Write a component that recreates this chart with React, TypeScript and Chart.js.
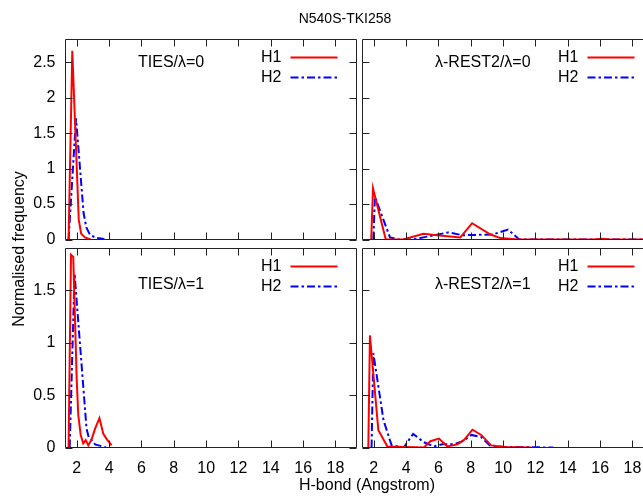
import React, { useEffect, useRef } from "react";
import { Chart, registerables } from "chart.js";

Chart.register(...registerables);

// ---------- data ----------
const X_MIN = 1.3;
const X_MAX = 19.3;
const X_TICKS = [2, 4, 6, 8, 10, 12, 14, 16, 18];
const Y_TICKS_TOP = [0, 0.5, 1, 1.5, 2, 2.5];
const Y_TICKS_BOTTOM = [0, 0.5, 1, 1.5];
const Y_MAX_TOP = 2.82;
const Y_MAX_BOTTOM = 1.9;

const SERIES_NAMES = ["H1", "H2"];
const PANEL_LABELS = ["TIES/λ=0", "λ-REST2/λ=0", "TIES/λ=1", "λ-REST2/λ=1"];
const TITLE = "N540S-TKI258";
const X_LABEL = "H-bond (Angstrom)";
const Y_LABEL = "Normalised frequency";

// TIES / lambda = 0
const TIES0_H1_X = [1.49, 1.72, 2.12, 2.27, 2.5, 2.85];
const TIES0_H1_Y = [0, 2.66, 0.28, 0.08, 0.03, 0];
const TIES0_H2_X = [1.49, 1.95, 2.42, 2.59, 2.83, 3.04, 3.25, 3.6, 3.7];
const TIES0_H2_Y = [0, 1.71, 0.37, 0.17, 0.06, 0.04, 0.02, 0.01, 0];

// lambda-REST2 / lambda = 0
const REST0_H1_X = [1.84, 1.95, 2.74, 3.82, 5.07, 5.9, 7.35, 8.08, 9.22, 9.84, 10.9, 15.6, 16.1, 16.6, 19.6];
const REST0_H1_Y = [0, 0.72, 0, 0, 0.08, 0.06, 0.03, 0.23, 0.07, 0.02, 0, 0, 0.01, 0, 0];
const REST0_H2_X = [1.97, 2.07, 3.0, 3.5, 4.4, 5.07, 6.6, 7.5, 9.35, 10.3, 11.0, 19.6];
const REST0_H2_Y = [0, 0.6, 0.03, 0, 0, 0.03, 0.1, 0.06, 0.07, 0.14, 0, 0];

// TIES / lambda = 1
const TIES1_H1_X = [1.49, 1.64, 1.78, 1.99, 2.09, 2.24, 2.4, 2.55, 2.71, 2.92, 3.13, 3.4, 3.64, 3.85, 4.15];
const TIES1_H1_Y = [0, 1.84, 1.82, 0.66, 0.31, 0.12, 0.04, 0.07, 0.02, 0.08, 0.18, 0.28, 0.13, 0.08, 0.02];
const TIES1_H2_X = [1.56, 1.86, 2.45, 2.6, 2.75, 2.92, 3.13, 3.6, 3.8];
const TIES1_H2_Y = [0, 1.66, 0.48, 0.18, 0.09, 0.07, 0.03, 0.01, 0];

// lambda-REST2 / lambda = 1
const REST1_H1_X = [1.66, 1.76, 2.28, 2.84, 5.1, 5.5, 6.03, 6.55, 7.17, 7.6, 8.1, 8.64, 9.26, 10.1, 11.75];
const REST1_H1_Y = [0, 1.07, 0.165, 0.01, 0, 0.06, 0.085, 0.01, 0.03, 0.075, 0.17, 0.12, 0.02, 0.005, 0];
const REST1_H2_X = [1.86, 1.97, 2.6, 3.1, 3.85, 4.43, 5.1, 5.7, 6.23, 6.97, 7.5, 8.03, 8.64, 9.16, 10.1, 13.1];
const REST1_H2_Y = [0, 0.9, 0.26, 0.02, 0, 0.13, 0.05, 0.01, 0.03, 0.03, 0.06, 0.12, 0.1, 0.02, 0.005, 0];

// ---------- layout ----------
const W = 680;
const H = 496;
const FONT = "'Liberation Sans', Arial, Helvetica, sans-serif";
const RED = "#ff0000";
const BLUE = "#0000ff";
const FRAME = "#222222";
const BLUE_DASH = [8, 3, 2.5, 3];

type Panel = {
  left: number; top: number; right: number; bottom: number;
  showX: boolean; showY: boolean;
  yMax: number; yTicks: number[];
  label: string; labelDy: number;
  h1x: number[]; h1y: number[]; h2x: number[]; h2y: number[];
};

const PANELS: Panel[] = [
  { left: 65.5, top: 39.5, right: 356.5, bottom: 239.5, showX: false, showY: true, yMax: Y_MAX_TOP, yTicks: Y_TICKS_TOP, label: PANEL_LABELS[0], labelDy: 23, h1x: TIES0_H1_X, h1y: TIES0_H1_Y, h2x: TIES0_H2_X, h2y: TIES0_H2_Y },
  { left: 362.5, top: 39.5, right: 653.5, bottom: 239.5, showX: false, showY: false, yMax: Y_MAX_TOP, yTicks: Y_TICKS_TOP, label: PANEL_LABELS[1], labelDy: 23, h1x: REST0_H1_X, h1y: REST0_H1_Y, h2x: REST0_H2_X, h2y: REST0_H2_Y },
  { left: 65.5, top: 248.5, right: 356.5, bottom: 447.5, showX: true, showY: true, yMax: Y_MAX_BOTTOM, yTicks: Y_TICKS_BOTTOM, label: PANEL_LABELS[2], labelDy: 36.5, h1x: TIES1_H1_X, h1y: TIES1_H1_Y, h2x: TIES1_H2_X, h2y: TIES1_H2_Y },
  { left: 362.5, top: 248.5, right: 653.5, bottom: 447.5, showX: true, showY: false, yMax: Y_MAX_BOTTOM, yTicks: Y_TICKS_BOTTOM, label: PANEL_LABELS[3], labelDy: 36.5, h1x: REST1_H1_X, h1y: REST1_H1_Y, h2x: REST1_H2_X, h2y: REST1_H2_Y },
];

const toPoints = (xs: number[], ys: number[]) => xs.map((x, i) => ({ x, y: ys[i] }));

function makeChart(canvas: HTMLCanvasElement, p: Panel) {
  const deco = {
    id: "panelDeco",
    afterDraw(chart: any) {
      const { ctx, chartArea } = chart;
      const xs = chart.scales.x;
      const ys = chart.scales.y;
      const { left, top, right, bottom } = chartArea;
      ctx.save();
      ctx.strokeStyle = FRAME;
      ctx.lineWidth = 1;
      ctx.beginPath();
      ctx.rect(left, top, right - left, bottom - top);
      const TL = 7;
      X_TICKS.forEach((v) => {
        const px = Math.round(xs.getPixelForValue(v)) + 0.5;
        ctx.moveTo(px, bottom);
        ctx.lineTo(px, bottom - TL);
        ctx.moveTo(px, top);
        ctx.lineTo(px, top + TL);
      });
      p.yTicks.forEach((v) => {
        const py = Math.round(ys.getPixelForValue(v)) + 0.5;
        ctx.moveTo(left, py);
        ctx.lineTo(left + TL, py);
        ctx.moveTo(right, py);
        ctx.lineTo(right - TL, py);
      });
      ctx.stroke();

      ctx.fillStyle = "#000";
      ctx.font = `16px ${FONT}`;
      ctx.textBaseline = "middle";
      ctx.textAlign = "left";
      ctx.fillText(p.label, left + 72.5, top + p.labelDy);

      const legend = [
        { name: SERIES_NAMES[0], color: RED, dash: [] as number[], dy: 18 },
        { name: SERIES_NAMES[1], color: BLUE, dash: BLUE_DASH, dy: 38 },
      ];
      legend.forEach((l) => {
        ctx.textAlign = "right";
        ctx.fillStyle = "#000";
        ctx.fillText(l.name, left + 216, top + l.dy);
        ctx.beginPath();
        ctx.strokeStyle = l.color;
        ctx.lineWidth = 2;
        ctx.setLineDash(l.dash);
        ctx.moveTo(left + 225, top + l.dy);
        ctx.lineTo(left + 272, top + l.dy);
        ctx.stroke();
        ctx.setLineDash([]);
      });
      ctx.restore();
    },
  };

  return new Chart(canvas, {
    type: "line",
    data: {
      datasets: [
        { label: SERIES_NAMES[0], data: toPoints(p.h1x, p.h1y), borderColor: RED, borderWidth: 2, pointRadius: 0, tension: 0, fill: false },
        { label: SERIES_NAMES[1], data: toPoints(p.h2x, p.h2y), borderColor: BLUE, borderWidth: 2, borderDash: BLUE_DASH, pointRadius: 0, tension: 0, fill: false },
      ],
    },
    options: {
      responsive: false,
      animation: false,
      devicePixelRatio: 1,
      events: [],
      layout: {
        padding: {
          left: p.showY ? 0 : p.left,
          top: p.top,
          right: W - p.right,
          bottom: p.showX ? 0 : H - p.bottom,
        },
      },
      plugins: { legend: { display: false }, tooltip: { enabled: false }, title: { display: false } },
      scales: {
        x: {
          type: "linear",
          position: "bottom",
          min: X_MIN,
          max: X_MAX,
          display: p.showX,
          afterBuildTicks: (s: any) => { s.ticks = X_TICKS.map((v) => ({ value: v })); },
          afterFit: (s: any) => { s.height = p.showX ? H - p.bottom : 0; },
          ticks: { autoSkip: false, maxRotation: 0, padding: 11, color: "#000", font: { family: FONT, size: 16 }, callback: (v: any) => String(v) },
          grid: { display: false, drawTicks: false },
          border: { display: false },
        },
        y: {
          type: "linear",
          position: "left",
          min: 0,
          max: p.yMax,
          display: p.showY,
          afterBuildTicks: (s: any) => { s.ticks = p.yTicks.map((v) => ({ value: v })); },
          afterFit: (s: any) => { s.width = p.showY ? p.left : 0; },
          ticks: { autoSkip: false, padding: 10, color: "#000", font: { family: FONT, size: 16 }, callback: (v: any) => String(v) },
          grid: { display: false, drawTicks: false },
          border: { display: false },
        },
      },
    } as any,
    plugins: [deco],
  });
}

export default function App() {
  const r0 = useRef<HTMLCanvasElement>(null);
  const r1 = useRef<HTMLCanvasElement>(null);
  const r2 = useRef<HTMLCanvasElement>(null);
  const r3 = useRef<HTMLCanvasElement>(null);
  const refs = [r0, r1, r2, r3];

  useEffect(() => {
    const charts = PANELS.map((p, i) => makeChart(refs[i].current as HTMLCanvasElement, p));
    return () => charts.forEach((c) => c.destroy());
  }, []);

  const textStyle: React.CSSProperties = { position: "absolute", color: "#000", fontFamily: FONT, whiteSpace: "nowrap", textAlign: "center", lineHeight: "20px" };

  return (
    <div style={{ position: "absolute", left: 0, top: 0, width: 643, height: 496, overflow: "hidden", background: "#fff" }}>
      {refs.map((r, i) => (
        <canvas key={i} ref={r} width={W} height={H} style={{ position: "absolute", left: 0, top: 0, width: W, height: H }} />
      ))}
      <div style={{ ...textStyle, left: 245, top: 8, width: 200, fontSize: 14 }}>{TITLE}</div>
      <div style={{ ...textStyle, left: 267, top: 475, width: 200, fontSize: 16 }}>{X_LABEL}</div>
      <div style={{ ...textStyle, left: 19 - 150, top: 249 - 10, width: 300, height: 20, fontSize: 16, transform: "rotate(-90deg)" }}>{Y_LABEL}</div>
    </div>
  );
}
